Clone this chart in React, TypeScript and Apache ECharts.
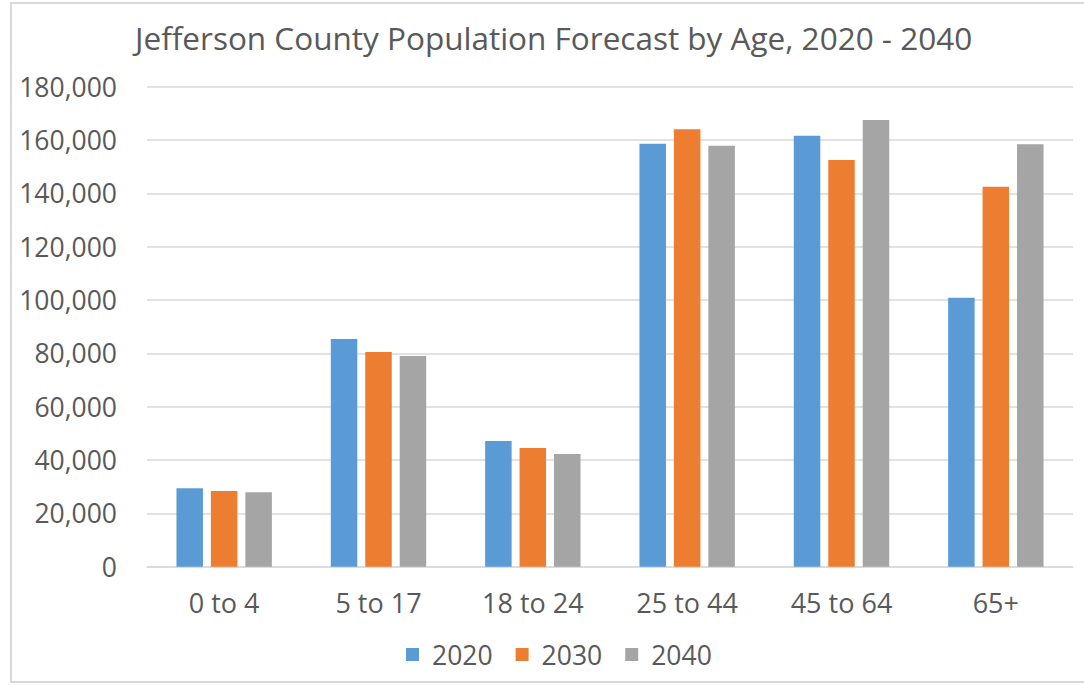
import React, { useEffect, useRef } from "react";
import * as echarts from "echarts";

const categories = ["0 to 4", "5 to 17", "18 to 24", "25 to 44", "45 to 64", "65+"];
const seriesNames = ["2020", "2030", "2040"];
const values2020 = [29400, 85400, 47100, 158600, 161600, 100900];
const values2030 = [28400, 80500, 44500, 164000, 152500, 142500];
const values2040 = [27900, 79000, 42300, 157900, 167500, 158400];
const colors = ["#5B9BD5", "#ED7D31", "#A5A5A5"];

const FONT = "'Open Sans', sans-serif";
const TEXT = "#595959";

export default function App() {
  const ref = useRef<HTMLDivElement>(null);

  useEffect(() => {
    if (!ref.current) return;
    const chart = echarts.init(ref.current, null, { renderer: "svg" });
    const data = [values2020, values2030, values2040];
    chart.setOption({
      animation: false,
      backgroundColor: "#ffffff",
      textStyle: { fontFamily: FONT, color: TEXT },
      title: {
        text: "Jefferson County Population Forecast by Age, 2020 - 2040",
        left: 130,
        top: 16,
        textStyle: { fontFamily: FONT, color: TEXT, fontSize: 31.5, fontWeight: "normal" },
      },
      legend: {
        bottom: 12,
        left: 401,
        itemWidth: 13,
        itemHeight: 13,
        itemGap: 23,
        icon: "rect",
        textStyle: { fontFamily: FONT, color: TEXT, fontSize: 26.5, padding: [0, 0, 0, 8] },
        data: seriesNames,
      },
      grid: { left: 147, right: 11, top: 86.7, bottom: 118.3 },
      xAxis: {
        type: "category",
        data: categories,
        axisLine: { lineStyle: { color: "#D9D9D9", width: 1.5 } },
        axisTick: { show: false },
        axisLabel: { color: TEXT, fontSize: 27, fontFamily: FONT, margin: 22 },
      },
      yAxis: {
        type: "value",
        min: 0,
        max: 180000,
        interval: 20000,
        axisLine: { show: false },
        axisTick: { show: false },
        splitLine: { lineStyle: { color: "#D9D9D9", width: 1.5 } },
        axisLabel: {
          color: TEXT,
          fontSize: 26.5,
          fontFamily: FONT,
          margin: 30,
          formatter: (v: number) => v.toLocaleString("en-US"),
        },
      },
      series: seriesNames.map((name, i) => ({
        name,
        type: "bar",
        data: data[i],
        barWidth: 26.5,
        barGap: "30%",
        itemStyle: { color: colors[i] },
      })),
      graphic: [
        {
          type: "rect",
          shape: { x: 11, y: 3, width: 1100, height: 679 },
          style: { fill: "none", stroke: "#D9D9D9", lineWidth: 2 },
          silent: true,
        },
      ],
    });
    return () => chart.dispose();
  }, []);

  return (
    <div
      ref={ref}
      style={{ position: "absolute", left: 0, top: 0, width: 1084, height: 685 }}
    />
  );
}
